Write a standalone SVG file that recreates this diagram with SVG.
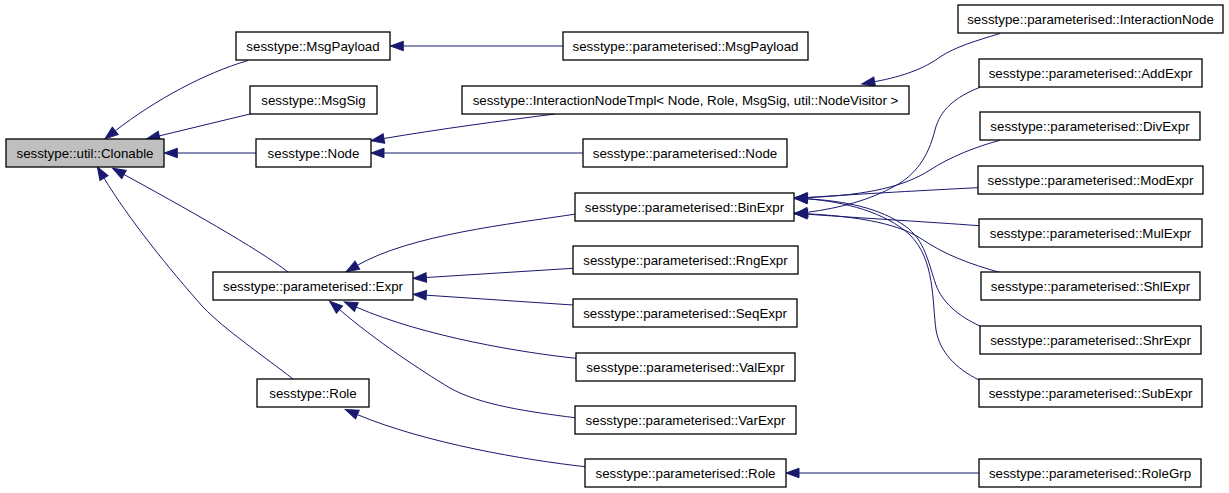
<svg xmlns="http://www.w3.org/2000/svg" width="1229" height="493" viewBox="0 0 1229 493">
<defs>
<style>
.node rect{fill:#ffffff;stroke:#000000;stroke-width:1.3}
.node.root rect{fill:#bfbfbf}
.node text{font-family:"Liberation Sans",Arial,Helvetica,sans-serif;font-size:13.33px;fill:#000000;text-anchor:middle}
.edges path{fill:none;stroke:#191970;stroke-width:1;marker-end:url(#ah)}
</style>
<marker id="ah" viewBox="0 0 13 9.4" refX="0" refY="4.7" markerWidth="13" markerHeight="9.4" markerUnits="userSpaceOnUse" orient="auto" overflow="visible">
<path d="M0,0 L13,4.7 L0,9.4 z" fill="#191970" stroke="#191970" stroke-width="1"/>
</marker>
</defs>
<rect x="0" y="0" width="1229" height="493" fill="#ffffff"/>
<g class="edges" id="edges">
<path d="M248,60.5 C205,73 155,100 115.2,130.9"/>
<path d="M252,113.5 L159.3,135.9"/>
<path d="M256,153 L177.3,153"/>
<path d="M288,272 C260,250 180,205 124,174.5"/>
<path d="M293,379 C265,357 225,330 203,307 C170,270 128,218 104,178"/>
<path d="M563,46 L403.3,46"/>
<path d="M555,114 C500,121 440,129 383.9,138.5"/>
<path d="M583,153 L384,153"/>
<path d="M1000,33.5 C975,41 955,47 940,57 C925,68 905,76 874.6,81.7"/>
<path d="M576,214 C510,224 410,235 357.4,265.3"/>
<path d="M573,268.3 L426.3,277.5"/>
<path d="M573,305 L426.3,295.2"/>
<path d="M576,358.3 C525,353 425,337 356.3,307.1"/>
<path d="M575,417.7 C530,412 480,405 450,388 C420,370 375,340 339.5,309.6"/>
<path d="M585,466.7 C525,460 425,443 357.4,414.6"/>
<path d="M979,473 L799,473"/>
<path d="M978,187.7 C930,190 860,194 807.3,197.5"/>
<path d="M1000,140.3 C975,147 950,157 930,170 C905,186 870,195 807.3,197.6"/>
<path d="M980,87.3 C955,97 940,110 935,130 C928,158 915,175 895,186 C870,200 840,208 807.5,212.3"/>
<path d="M979,225.7 C930,222 860,218 807.3,214.2"/>
<path d="M1000,272.5 C970,264 945,255 920,238 C895,222 850,216 807.3,213.8"/>
<path d="M980,326 C958,316 942,302 936,285 C928,262 925,240 905,226 C880,208 845,201 807.3,198.8"/>
<path d="M979,380 C955,368 940,352 936,330 C932,300 935,260 910,235 C885,212 845,202 807.3,198.8"/>
</g>
<g id="n-clonable" class="node root"><rect x="6" y="139" width="158" height="28"/><text x="85" y="157.5">sesstype::util::Clonable</text></g>
<g id="n-msgpayload" class="node"><rect x="236" y="32" width="154" height="28"/><text x="313" y="50.5">sesstype::MsgPayload</text></g>
<g id="n-msgsig" class="node"><rect x="250" y="86" width="127" height="28"/><text x="313.5" y="104.5">sesstype::MsgSig</text></g>
<g id="n-node" class="node"><rect x="256" y="139" width="115" height="28"/><text x="313.5" y="157.5">sesstype::Node</text></g>
<g id="n-expr" class="node"><rect x="213" y="272" width="200" height="28"/><text x="313" y="290.5">sesstype::parameterised::Expr</text></g>
<g id="n-role" class="node"><rect x="257" y="379" width="112" height="28"/><text x="313" y="397.5">sesstype::Role</text></g>
<g id="n-pmsgpayload" class="node"><rect x="563" y="32" width="245" height="28"/><text x="685.5" y="50.5">sesstype::parameterised::MsgPayload</text></g>
<g id="n-intnodetmpl" class="node"><rect x="462" y="86" width="447" height="28"/><text x="685.5" y="104.5">sesstype::InteractionNodeTmpl&lt; Node, Role, MsgSig, util::NodeVisitor &gt;</text></g>
<g id="n-pnode" class="node"><rect x="583" y="139" width="204" height="28"/><text x="685" y="157.5">sesstype::parameterised::Node</text></g>
<g id="n-binexpr" class="node"><rect x="575" y="193" width="219" height="28"/><text x="684.5" y="211.5">sesstype::parameterised::BinExpr</text></g>
<g id="n-rngexpr" class="node"><rect x="573" y="246" width="225" height="28"/><text x="685.5" y="264.5">sesstype::parameterised::RngExpr</text></g>
<g id="n-seqexpr" class="node"><rect x="573" y="299" width="224" height="28"/><text x="685" y="317.5">sesstype::parameterised::SeqExpr</text></g>
<g id="n-valexpr" class="node"><rect x="576" y="353" width="219" height="28"/><text x="685.5" y="371.5">sesstype::parameterised::ValExpr</text></g>
<g id="n-varexpr" class="node"><rect x="575" y="406" width="221" height="28"/><text x="685.5" y="424.5">sesstype::parameterised::VarExpr</text></g>
<g id="n-prole" class="node"><rect x="585" y="459" width="201" height="28"/><text x="685.5" y="477.5">sesstype::parameterised::Role</text></g>
<g id="n-intnode" class="node"><rect x="958" y="5" width="265" height="28"/><text x="1090.5" y="23.5">sesstype::parameterised::InteractionNode</text></g>
<g id="n-addexpr" class="node"><rect x="979" y="59" width="223" height="28"/><text x="1090.5" y="77.5">sesstype::parameterised::AddExpr</text></g>
<g id="n-divexpr" class="node"><rect x="980" y="112" width="220" height="28"/><text x="1090" y="130.5">sesstype::parameterised::DivExpr</text></g>
<g id="n-modexpr" class="node"><rect x="978" y="166" width="225" height="28"/><text x="1090.5" y="184.5">sesstype::parameterised::ModExpr</text></g>
<g id="n-mulexpr" class="node"><rect x="979" y="219" width="223" height="28"/><text x="1090.5" y="237.5">sesstype::parameterised::MulExpr</text></g>
<g id="n-shlexpr" class="node"><rect x="981" y="272" width="219" height="28"/><text x="1090.5" y="290.5">sesstype::parameterised::ShlExpr</text></g>
<g id="n-shrexpr" class="node"><rect x="980" y="326" width="221" height="28"/><text x="1090.5" y="344.5">sesstype::parameterised::ShrExpr</text></g>
<g id="n-subexpr" class="node"><rect x="979" y="379" width="223" height="28"/><text x="1090.5" y="397.5">sesstype::parameterised::SubExpr</text></g>
<g id="n-rolegrp" class="node"><rect x="979" y="459" width="222" height="28"/><text x="1090" y="477.5">sesstype::parameterised::RoleGrp</text></g>
</svg>
